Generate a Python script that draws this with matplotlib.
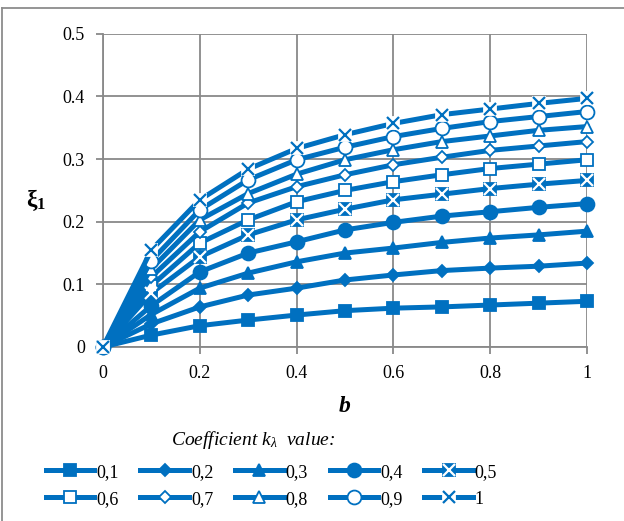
import matplotlib
matplotlib.use("Agg")
import matplotlib.pyplot as plt
from matplotlib.lines import Line2D

plt.rcParams['font.family'] = ['Liberation Serif', 'DejaVu Serif']
plt.rcParams['mathtext.fontset'] = 'custom'
plt.rcParams['mathtext.rm'] = 'Liberation Serif'
plt.rcParams['mathtext.it'] = 'Liberation Serif:italic'
plt.rcParams['mathtext.bf'] = 'Liberation Serif:bold'

# data
b = [0, 0.1, 0.2, 0.3, 0.4, 0.5, 0.6, 0.7, 0.8, 0.9, 1.0]
k_labels = ['0,1', '0,2', '0,3', '0,4', '0,5', '0,6', '0,7', '0,8', '0,9', '1']
xi_01 = [0, 0.019, 0.034, 0.043, 0.051, 0.058, 0.062, 0.064, 0.067, 0.070, 0.073]
xi_02 = [0, 0.037, 0.064, 0.083, 0.094, 0.107, 0.115, 0.122, 0.126, 0.129, 0.134]
xi_03 = [0, 0.052, 0.094, 0.118, 0.136, 0.150, 0.158, 0.167, 0.174, 0.179, 0.185]
xi_04 = [0, 0.066, 0.120, 0.150, 0.168, 0.187, 0.199, 0.209, 0.216, 0.223, 0.229]
xi_05 = [0, 0.086, 0.144, 0.179, 0.203, 0.220, 0.235, 0.244, 0.253, 0.260, 0.266]
xi_06 = [0, 0.098, 0.166, 0.203, 0.232, 0.250, 0.264, 0.275, 0.285, 0.292, 0.299]
xi_07 = [0, 0.112, 0.184, 0.230, 0.256, 0.275, 0.291, 0.303, 0.314, 0.321, 0.328]
xi_08 = [0, 0.125, 0.203, 0.245, 0.276, 0.299, 0.315, 0.328, 0.337, 0.346, 0.352]
xi_09 = [0, 0.138, 0.219, 0.267, 0.299, 0.319, 0.336, 0.349, 0.360, 0.368, 0.376]
xi_10 = [0, 0.155, 0.235, 0.284, 0.317, 0.339, 0.357, 0.371, 0.380, 0.389, 0.397]
series = [xi_01, xi_02, xi_03, xi_04, xi_05, xi_06, xi_07, xi_08, xi_09, xi_10]

blue = '#0070C0'
grid_c = '#898989'

# (marker, size, face, edge, overlay marker)
styles = [
    ('s', 9, blue, blue, None),
    ('D', 6.5, blue, blue, None),
    ('^', 9, blue, blue, None),
    ('o', 10, blue, blue, None),
    ('s', 9, blue, blue, 'x_white'),
    ('s', 9, 'white', blue, None),
    ('D', 6.5, 'white', blue, None),
    ('^', 9, 'white', blue, None),
    ('o', 10, 'white', blue, None),
    ('s', 9, 'white', 'white', 'x_blue'),
]

fig = plt.figure(figsize=(6.24, 5.21), dpi=100)
ax = fig.add_axes([0.165, 0.334, 0.776, 0.601])

handles = []
for ys, lab, (m, ms, fc, ec, over) in zip(series, k_labels, styles):
    ln, = ax.plot(b, ys, color=blue, lw=3.6, marker=m, ms=ms, mfc=fc, mec=ec,
                  mew=1.3, clip_on=False, zorder=3)
    h = ln
    if over is not None:
        oc = 'white' if over == 'x_white' else blue
        ov, = ax.plot(b, ys, ls='none', marker='x', ms=8.5, mec=oc, mew=1.6,
                      clip_on=False, zorder=4)
        h = (ln, ov)
    handles.append(h)

ax.set_xlim(0, 1)
ax.set_ylim(0, 0.5)
ax.set_xticks([0, 0.2, 0.4, 0.6, 0.8, 1])
ax.set_xticklabels(['0', '0.2', '0.4', '0.6', '0.8', '1'])
ax.set_yticks([0, 0.1, 0.2, 0.3, 0.4, 0.5])
ax.set_yticklabels(['0', '0.1', '0.2', '0.3', '0.4', '0.5'])
ax.grid(True, color=grid_c, lw=1.3)
ax.set_axisbelow(True)
for s in ['top', 'right']:
    ax.spines[s].set_visible(False)
for s in ['left', 'bottom']:
    ax.spines[s].set_color(grid_c)
    ax.spines[s].set_linewidth(1.3)
ax.tick_params(direction='out', length=5, width=1.3, color=grid_c,
               labelsize=13, pad=8)

ax.set_xlabel('b', fontsize=17, fontweight='bold', style='italic', labelpad=10)
ax.set_ylabel(r'$\mathbf{\xi_1}$', fontsize=17, rotation=0, va='center')
ax.yaxis.set_label_coords(-0.138, 0.47)

# legend filled row-wise like the reference
order = [0, 5, 1, 6, 2, 7, 3, 8, 4, 9]
leg = fig.legend([handles[i] for i in order], [k_labels[i] for i in order],
                 loc='upper center', bbox_to_anchor=(0.435, 0.11), ncol=5,
                 frameon=False, fontsize=13, handlelength=2.7,
                 handletextpad=0.1, columnspacing=1.2, labelspacing=0.55,
                 borderaxespad=0, borderpad=0)
fig.text(0.405, 0.155, r'Coefficient $k_\lambda$  value:', ha='center',
         va='center', fontsize=14, style='italic')

# outer chart frame (top and left edges only are visible in the reference)
fig.add_artist(Line2D([0.004, 1.0], [0.985, 0.985], transform=fig.transFigure,
                      color='#8c8c8c', lw=1.3))
fig.add_artist(Line2D([0.004, 0.004], [0.0, 0.985], transform=fig.transFigure,
                      color='#8c8c8c', lw=1.3))

fig.savefig('out.png', dpi=100)
